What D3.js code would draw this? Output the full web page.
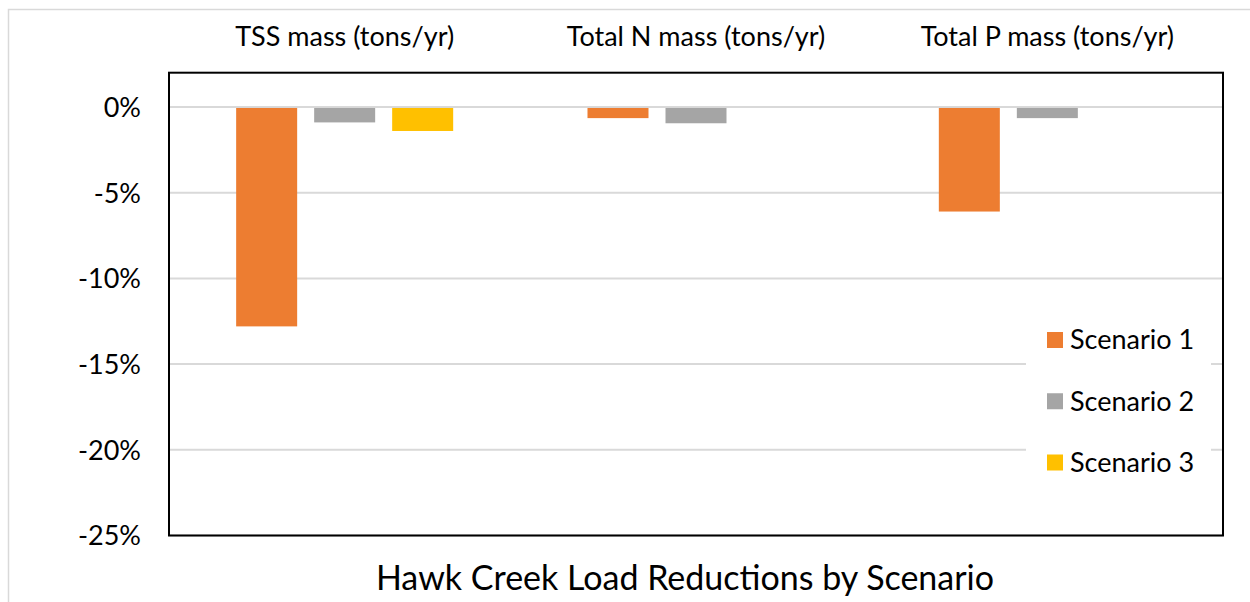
<!DOCTYPE html>
<html>
<head>
<meta charset="utf-8">
<script src="https://cdn.jsdelivr.net/npm/d3@7"></script>
<style>
  html, body { margin: 0; padding: 0; background: #ffffff; }
  svg { display: block; }
  text { font-family: Lato, "Open Sans", sans-serif; fill: #000; }
</style>
</head>
<body>
<svg id="chart" width="1250" height="602"></svg>
<script>
// ---- data ----
const categories = ["TSS mass (tons/yr)", "Total N mass (tons/yr)", "Total P mass (tons/yr)"];
const seriesNames = ["Scenario 1", "Scenario 2", "Scenario 3"];
const scenario1 = [-12.8, -0.65, -6.1];
const scenario2 = [-0.9, -0.95, -0.65];
const scenario3 = [-1.4, 0, 0];
const yTicks = [0, -5, -10, -15, -20, -25];
const colors = ["#ED7D31", "#A5A5A5", "#FFC000"];
const title = "Hawk Creek Load Reductions by Scenario";

const seriesValues = [scenario1, scenario2, scenario3];

// ---- layout ----
const svg = d3.select("#chart");
const plot = { left: 169, right: 1223, top: 72.7, bottom: 535.5 };

// outer chart border (light gray)
svg.append("rect")
  .attr("x", 8.5).attr("y", 9.5)
  .attr("width", 1300).attr("height", 700)
  .attr("fill", "none").attr("stroke", "#d9d9d9").attr("stroke-width", 1.5);

const y = d3.scaleLinear().domain([-25, 2]).range([plot.bottom, plot.top]);
const x0 = d3.scaleBand().domain(categories).range([plot.left, plot.right]).padding(0);
const bw = x0.bandwidth();
const groupW = bw * 0.6177;
const x1 = d3.scaleBand().domain(seriesNames)
  .range([(bw - groupW) / 2, (bw + groupW) / 2])
  .paddingInner(0.218).paddingOuter(0);

// gridlines
svg.append("g").selectAll("line").data(yTicks).join("line")
  .attr("x1", plot.left).attr("x2", plot.right)
  .attr("y1", d => y(d)).attr("y2", d => y(d))
  .attr("stroke", "#d9d9d9").attr("stroke-width", 2);

// y axis tick labels
const yAxis = d3.axisLeft(y).tickValues(yTicks).tickSize(0).tickPadding(0)
  .tickFormat(d => d + "%");
const gy = svg.append("g").attr("transform", `translate(141,0)`).call(yAxis);
gy.select(".domain").remove();
gy.selectAll("text")
  .attr("font-size", 27).attr("font-family", "Lato, sans-serif")
  .attr("fill", "#000").attr("dy", "0.35em");

// bars
const rows = categories.map((c, i) => ({ cat: c, vals: seriesNames.map((s, j) => ({ s, v: seriesValues[j][i], j })) }));
const groups = svg.append("g").selectAll("g").data(rows).join("g")
  .attr("transform", d => `translate(${x0(d.cat)},0)`);
groups.selectAll("rect").data(d => d.vals.filter(e => e.v !== 0)).join("rect")
  .attr("x", d => x1(d.s))
  .attr("width", x1.bandwidth())
  .attr("y", d => y(0) + 1)
  .attr("height", d => Math.max(0, y(d.v) - y(0) - 1))
  .attr("fill", d => colors[d.j]);

// category labels on top (x axis positioned high)
const xAxis = d3.axisTop(x0).tickSize(0).tickPadding(0);
const gx = svg.append("g").attr("transform", `translate(0,46)`).call(xAxis);
gx.select(".domain").remove();
gx.selectAll("text")
  .attr("font-size", 27).attr("font-family", "Lato, sans-serif")
  .attr("fill", "#000").attr("dy", 0);

// plot area border
svg.append("rect")
  .attr("x", plot.left).attr("y", plot.top)
  .attr("width", plot.right - plot.left).attr("height", plot.bottom - plot.top)
  .attr("fill", "none").attr("stroke", "#000").attr("stroke-width", 2);

// legend
const legend = svg.append("g");
legend.append("rect")
  .attr("x", 1026).attr("y", 312).attr("width", 185).attr("height", 180)
  .attr("fill", "#fff");
const ly = d3.scalePoint().domain(seriesNames).range([340, 462.5]);
const li = legend.selectAll("g.item").data(seriesNames).join("g").attr("class", "item")
  .attr("transform", d => `translate(1047,${ly(d)})`);
li.append("rect").attr("x", 0).attr("y", -8).attr("width", 16).attr("height", 16)
  .attr("fill", (d, i) => colors[i]);
li.append("text").attr("x", 23).attr("y", 0).attr("dy", "0.35em")
  .attr("font-size", 27).text(d => d);

// title
svg.append("text")
  .attr("x", 685).attr("y", 590).attr("text-anchor", "middle")
  .attr("font-size", 34).text(title);
</script>
</body>
</html>
